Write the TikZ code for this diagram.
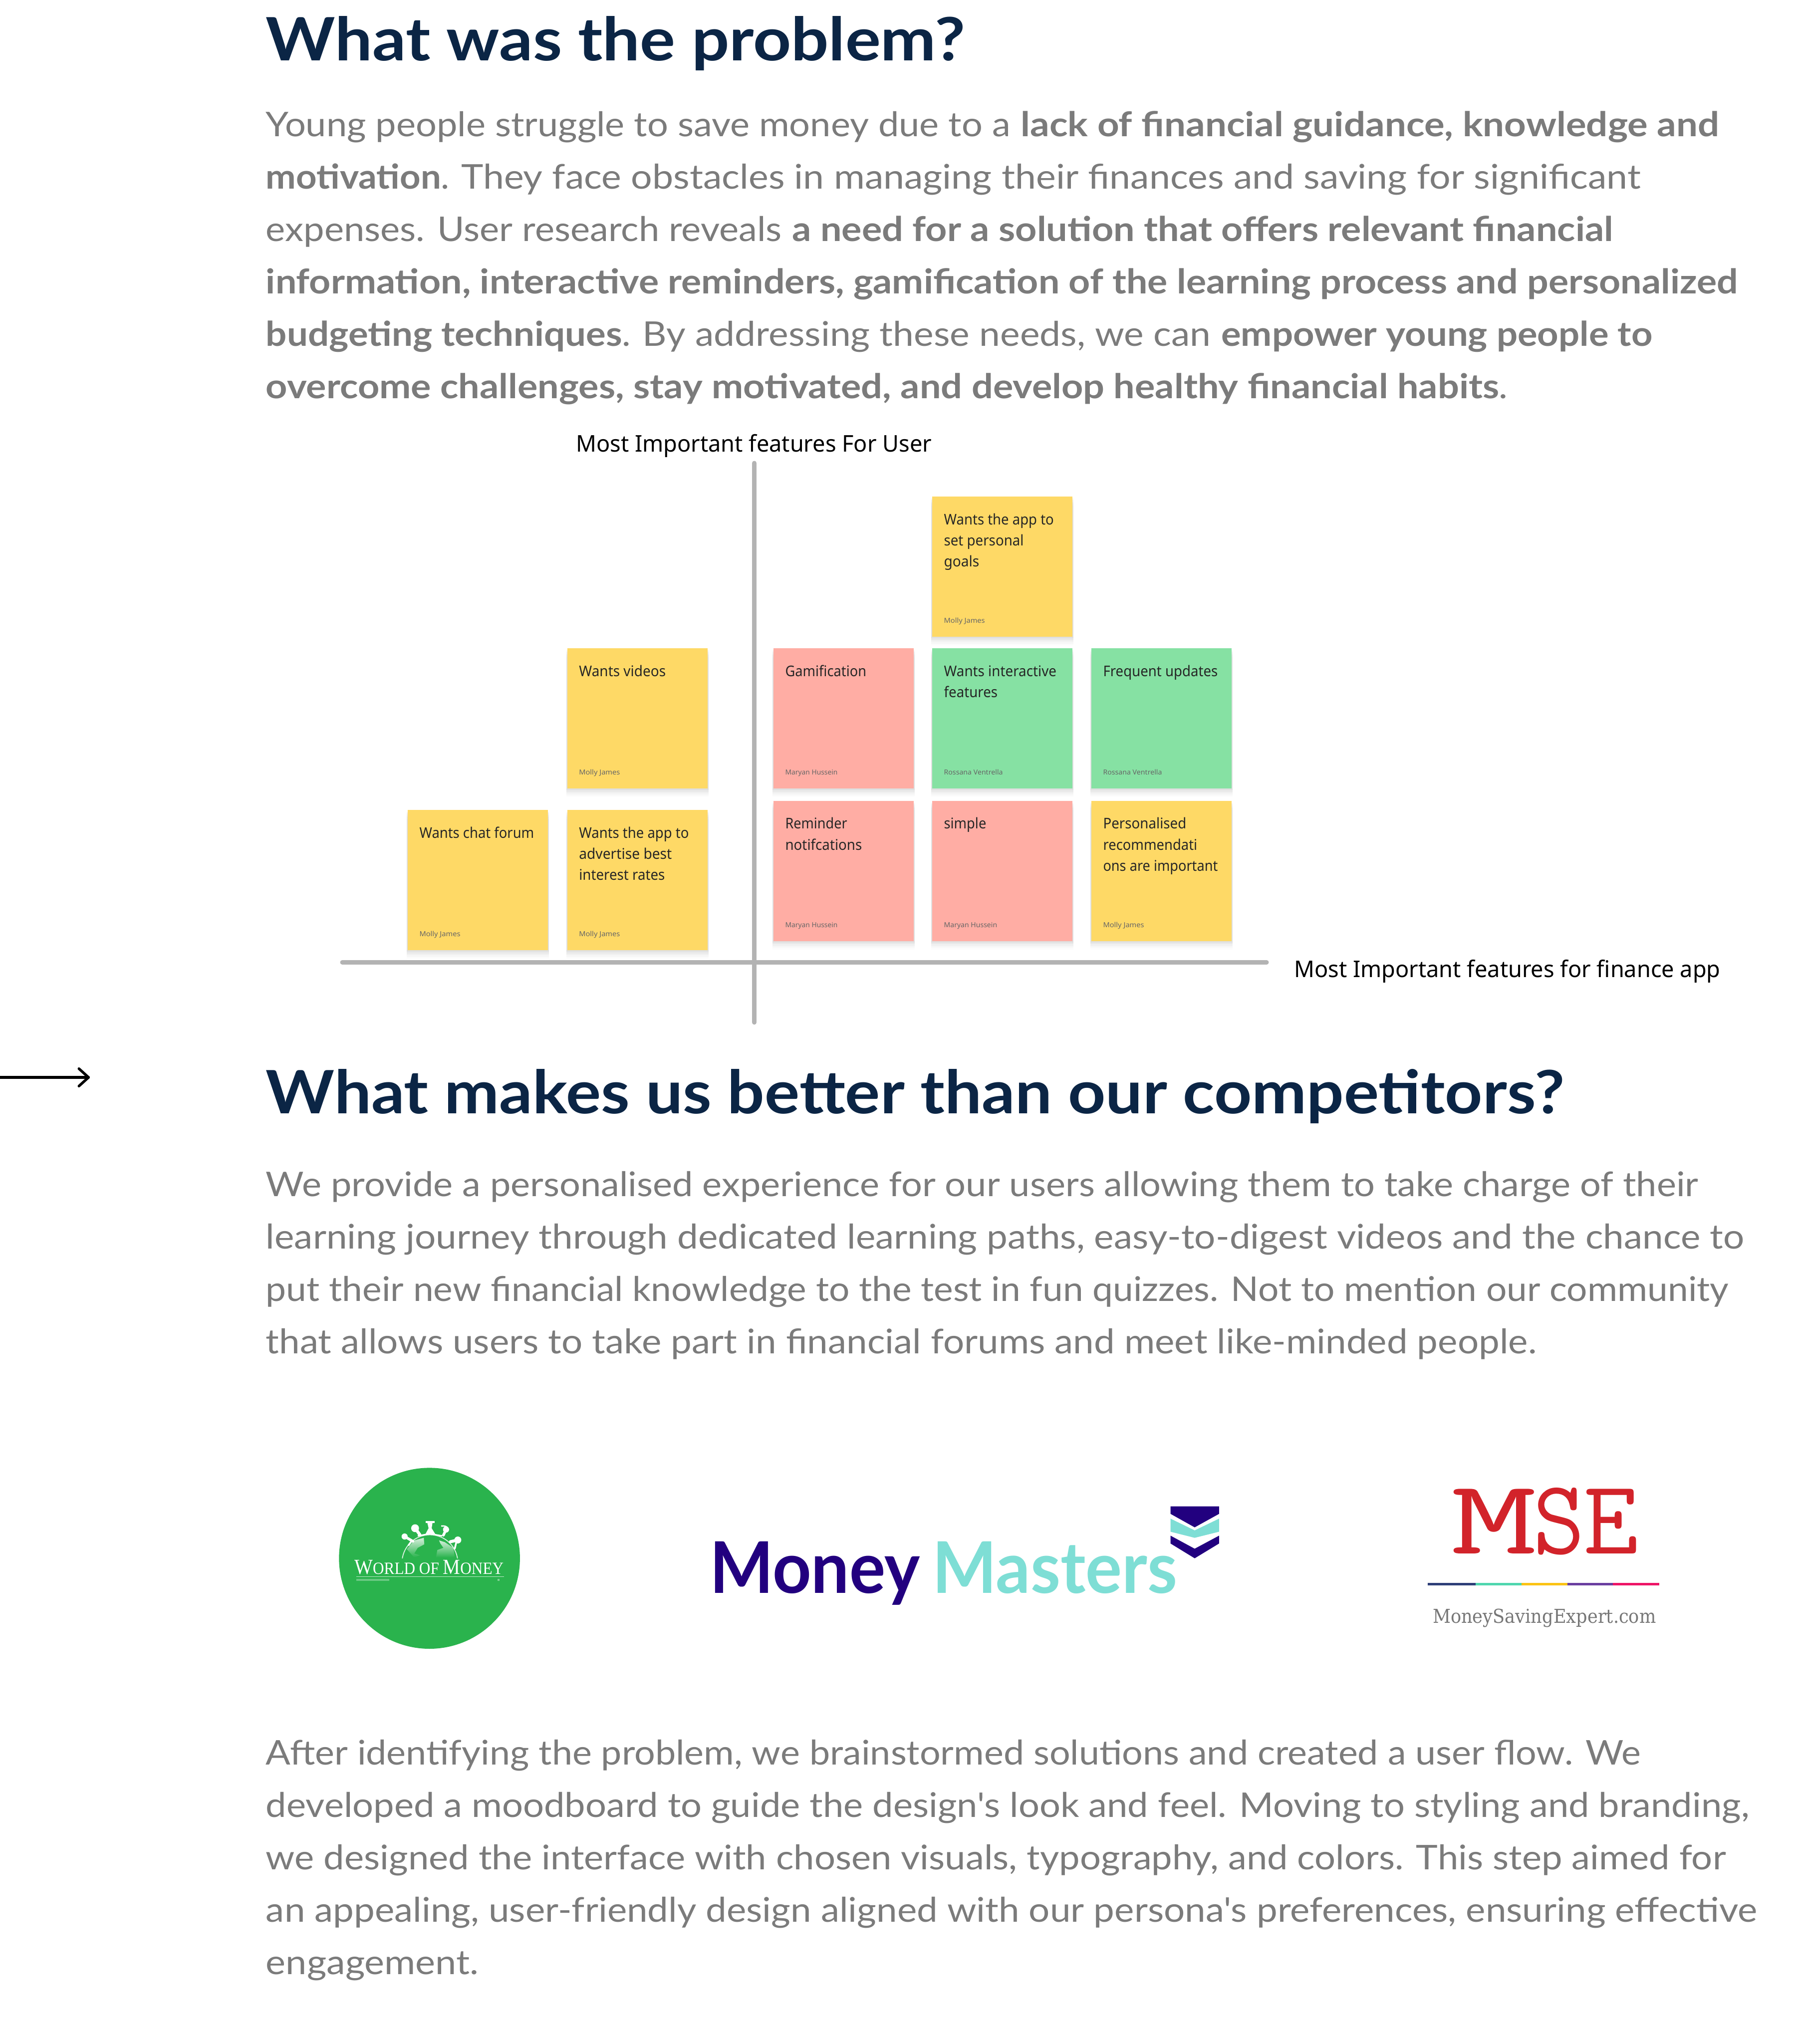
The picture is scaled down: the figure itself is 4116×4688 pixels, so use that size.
\documentclass[tikz,border=0pt]{standalone}
\usepackage{fontspec}
\usepackage{graphicx}
\setmainfont{Lato}[Ligatures=TeXOff]
\newfontfamily\stickyfont{Noto Sans}
\newfontfamily\lserif{Liberation Serif}
\newfontfamily\dserif{DejaVu Serif}
\usetikzlibrary{calc}
\newdimen\pxu \pxu=0.01cm
\newcommand\fit[2]{\resizebox{#1\pxu}{\height}{#2}}
\definecolor{titlec}{HTML}{0B2545}
\definecolor{bodyc}{HTML}{7B7B7B}
\definecolor{styel}{HTML}{FED966}
\definecolor{stpink}{HTML}{FFADA4}
\definecolor{stgreen}{HTML}{86E1A3}
\definecolor{axisc}{HTML}{B3B3B3}
\definecolor{worldg}{HTML}{2AB34D}
\definecolor{landc}{HTML}{D5EFDB}
\definecolor{mmdark}{HTML}{22007F}
\definecolor{mmteal}{HTML}{7EDED5}
\definecolor{msered}{HTML}{D2232A}
\definecolor{msegrey}{HTML}{777777}
\newcommand\titlefont{\fontsize{39}{46}\selectfont\bfseries}
\newcommand\bodyfont{\fontsize{22.2}{30}\selectfont}
\tikzset{
  txt/.style={anchor=base west,inner sep=0pt,outer sep=0pt},
  titleline/.style={txt,text=titlec,font=\titlefont},
  bodyline/.style={txt,text=bodyc,font=\bodyfont},
  stickybox/.style={fill=#1,draw=none,minimum width=322\pxu,minimum height=321\pxu,anchor=north west,inner sep=0pt,outer sep=0pt},
  stickytext/.style={txt,text=black!85,font=\stickyfont\fontsize{9.6}{12}\selectfont},
  stickyauthor/.style={txt,text=black!60,font=\stickyfont\fontsize{4.5}{6}\selectfont},
  axisline/.style={draw=axisc,line width=10\pxu,line cap=round},
  labeltext/.style={txt,text=black,font=\stickyfont\fontsize{15}{18}\selectfont},
  arrowline/.style={draw=black,line width=6\pxu,line cap=round,line join=round},
  msetxt/.style={txt,text=msered,font=\ttfamily\fontsize{69}{72}\selectfont},
}
\newcommand\sticky[6]{%
  \foreach \s/\o in {4/.04,8/.03,12/.025,16/.02,20/.01}{
    \fill[black,opacity=\o] (#2-2,#3+\s) rectangle (#2+324,#3+321+\s);
  }
  \node[stickybox=#4] (#1) at (#2,#3) {};
  \node[stickyauthor] (#1-author) at ($(#1.north west)+(27,290)$) {\fit{#6}{#5}};
}
\newcommand\stxt[4]{%
  \node[stickytext] (#1-#2) at ($(#1.north west)+(27,{64+48.4*(#2-1)})$) {\fit{#3}{#4}};
}
\begin{document}
\begin{tikzpicture}[x=0.01cm,y=-0.01cm]
\useasboundingbox[fill=white] (0,0) rectangle (4116,4688);

% section 1
\node[titleline] (title1) at (610,139) {\fit{1603}{What was the problem?}};
\node[bodyline] (p1a1) at (610,313) {\fit{1707}{Young people struggle to save money due to a}};
\node[bodyline] (p1a2) at (2341,313) {\fit{1602}{\textbf{lack of financial guidance, knowledge and}}};
\node[bodyline] (p1b1) at (610,433.5) {\fit{421}{\textbf{motivation}.}};
\node[bodyline] (p1b2) at (1058,433.5) {\fit{2705}{They face obstacles in managing their finances and saving for significant}};
\node[bodyline] (p1c1) at (610,553.7) {\fit{1183}{expenses. User research reveals}};
\node[bodyline] (p1c2) at (1817,553.7) {\fit{1883}{\textbf{a need for a solution that offers relevant financial}}};
\node[bodyline] (p1d) at (610,673.9) {\fit{3375}{\textbf{information, interactive reminders, gamification of the learning process and personalized}}};
\node[bodyline] (p1e1) at (610,794.1) {\fit{837}{\textbf{budgeting techniques}.}};
\node[bodyline] (p1e2) at (1474,794.1) {\fit{1303}{By addressing these needs, we can}};
\node[bodyline] (p1e3) at (2801,794.1) {\fit{989}{\textbf{empower young people to}}};
\node[bodyline] (p1f) at (610,914.3) {\fit{2848}{\textbf{overcome challenges, stay motivated, and develop healthy financial habits}.}};

% quadrant chart
\node[labeltext] (ylabel) at (1321,1036) {\fit{816}{Most Important features For User}};
\node[labeltext] (xlabel) at (2968,2241) {\fit{978}{Most Important features for finance app}};
\coordinate (vtop) at (1730,1062);
\coordinate (vbot) at (1730,2345);
\coordinate (hleft) at (785,2207);
\coordinate (hright) at (2905,2207);
\draw[axisline] (vtop) -- (vbot);
\draw[axisline] (hleft) -- (hright);

\sticky{s1}{2138}{1139}{styel}{Molly James}{94}
\stxt{s1}{1}{252}{Wants the app to}
\stxt{s1}{2}{183}{set personal}
\stxt{s1}{3}{81}{goals}
\sticky{s2}{1301}{1487}{styel}{Molly James}{94}
\stxt{s2}{1}{199}{Wants videos}
\sticky{s3}{1774}{1487}{stpink}{Maryan Hussein}{120}
\stxt{s3}{1}{186}{Gamification}
\sticky{s4}{2138}{1487}{stgreen}{Rossana Ventrella}{135}
\stxt{s4}{1}{258}{Wants interactive}
\stxt{s4}{2}{123}{features}
\sticky{s5}{2503}{1487}{stgreen}{Rossana Ventrella}{135}
\stxt{s5}{1}{263}{Frequent updates}
\sticky{s6}{935}{1858}{styel}{Molly James}{94}
\stxt{s6}{1}{263}{Wants chat forum}
\sticky{s7}{1301}{1858}{styel}{Molly James}{94}
\stxt{s7}{1}{252}{Wants the app to}
\stxt{s7}{2}{213}{advertise best}
\stxt{s7}{3}{197}{interest rates}
\sticky{s8}{1774}{1837}{stpink}{Maryan Hussein}{120}
\stxt{s8}{1}{142}{Reminder}
\stxt{s8}{2}{176}{notifcations}
\sticky{s9}{2138}{1837}{stpink}{Maryan Hussein}{122}
\stxt{s9}{1}{97}{simple}
\sticky{s10}{2503}{1837}{styel}{Molly James}{94}
\stxt{s10}{1}{191}{Personalised}
\stxt{s10}{2}{216}{recommendati}
\stxt{s10}{3}{263}{ons are important}

% arrow
\coordinate (arrowstart) at (0,2471);
\coordinate (arrowend) at (203,2471);
\coordinate (arrowup) at (181,2451);
\coordinate (arrowdn) at (181,2491);
\draw[arrowline] (arrowstart) -- (arrowend);
\draw[arrowline] (arrowup) -- (arrowend) -- (arrowdn);

% section 2
\node[titleline] (title2) at (610,2554) {\fit{2978}{What makes us better than our competitors?}};
\node[bodyline] (p2a) at (610,2743.7) {\fit{3285}{We provide a personalised experience for our users allowing them to take charge of their}};
\node[bodyline] (p2b) at (610,2864) {\fit{3390}{learning journey through dedicated learning paths, easy-to-digest videos and the chance to}};
\node[bodyline] (p2c) at (610,2984.2) {\fit{3354}{put their new financial knowledge to the test in fun quizzes. Not to mention our community}};
\node[bodyline] (p2d) at (610,3104.4) {\fit{2914}{that allows users to take part in financial forums and meet like-minded people.}};

% world of money logo
\node[circle,fill=worldg,minimum size=415\pxu,inner sep=0pt] (world) at (985,3574) {};
\shade[top color=landc,bottom color=worldg] (933,3553) -- (950,3533) -- (972,3527) -- (973,3542) -- (958,3550) -- (950,3563) -- (963,3567) -- (950,3572) -- cycle;
\shade[top color=landc,bottom color=worldg] (1007,3533) -- (1020,3537) -- (1040,3550) -- (1043,3572) -- (1000,3572) -- (1003,3555) -- (1017,3550) -- (1010,3540) -- cycle;
\begin{scope}
\clip (900,3470) rectangle (1070,3574);
\draw[white,line width=2\pxu,opacity=.85] (986,3584) circle (64);
\end{scope}
\fill[white] (958,3521) -- (986,3516) -- (1014,3521) -- (1014,3524) -- (986,3519.5) -- (958,3524) -- cycle;
% figures on the globe
\fill[white] (928,3524) circle (7) (952,3505) circle (9) (1023,3508) circle (7) (1050,3532) circle (8);
\draw[white,line width=6\pxu,line cap=round] (928,3524) -- (947,3535);
\draw[white,line width=4\pxu,line cap=round] (945,3533) -- (937,3544);
\draw[white,line width=7\pxu,line cap=round] (952,3505) -- (963,3520);
\fill[white] (976,3489) rectangle (997,3492.5);
\fill[white] (980,3492) -- (992,3492) -- (990,3505) -- (998,3518) -- (976,3518) -- (983,3505) -- cycle;
\draw[white,line width=6\pxu,line cap=round] (1023,3508) -- (1017,3521);
\draw[white,line width=3\pxu] (1012,3500) .. controls (1020,3499) and (1026,3501) .. (1027,3506);
\draw[white,line width=7\pxu,line cap=round] (1050,3532) -- (1033,3536);
\draw[white,line width=4\pxu,line cap=round] (1047,3535) -- (1043,3552);
\node[txt,text=white,font=\lserif\fontsize{11.2}{13}\selectfont] (worldname) at (813,3610) {\fit{342}{{\fontsize{14}{14}\selectfont W}ORLD OF {\fontsize{14}{14}\selectfont M}ONEY}};
\coordinate (wr1) at (817,3616);
\coordinate (wr2) at (1156,3616);
\draw[white,line width=1.5\pxu,opacity=.7] (wr1) -- (wr2);
\fill[white,opacity=.3] (817,3621) rectangle (893,3626);
\fill[white,opacity=.4] (1141,3621) rectangle (1146,3626);

% money masters logo
\node[txt,text=mmdark,font=\fontsize{46.5}{50}\selectfont\bfseries] (mm1) at (1628,3654) {\fit{482}{Money}};
\node[txt,text=mmteal,font=\fontsize{46.5}{50}\selectfont\bfseries] (mm2) at (2138,3654) {\fit{562}{Masters}};
\fill[mmdark] (2684.5,3455) -- (2796,3455) -- (2796,3472) -- (2740,3503) -- (2684.5,3472) -- cycle;
\fill[mmteal] (2684.5,3483) -- (2740,3510) -- (2796,3483) -- (2796,3513) -- (2740,3527) -- (2684.5,3513) -- cycle;
\fill[mmdark] (2684.5,3522) -- (2740,3552) -- (2796,3522) -- (2796,3540) -- (2740,3574) -- (2684.5,3540) -- cycle;

% mse logo
\node[msetxt] (mseM) at (3328,3563) {\fit{198}{M}};
\node[msetxt] (mseS) at (3517,3563) {\fit{118}{S}};
\node[msetxt] (mseE) at (3632,3563) {\fit{126}{E}};
\foreach \a/\b/\c in {3275/3384/2E3F78,3384/3490/4FD6AE,3490/3595/FBC314,3595/3699/6A3FA0,3699/3805/EE1566}{
  \definecolor{segc}{HTML}{\c}
  \fill[segc] (\a,3630) rectangle (\b,3636);
}
\node[txt,text=msegrey,font=\dserif\fontsize{12.5}{15}\selectfont] (msesite) at (3286,3722) {\fit{512}{MoneySavingExpert.com}};

% section 3
\node[bodyline] (p3a) at (610,4048) {\fit{3153}{After identifying the problem, we brainstormed solutions and created a user flow. We}};
\node[bodyline] (p3b) at (610,4168) {\fit{3402}{developed a moodboard to guide the design's look and feel. Moving to styling and branding,}};
\node[bodyline] (p3c) at (610,4288) {\fit{3348}{we designed the interface with chosen visuals, typography, and colors. This step aimed for}};
\node[bodyline] (p3d) at (610,4408) {\fit{3420}{an appealing, user-friendly design aligned with our persona's preferences, ensuring effective}};
\node[bodyline] (p3e) at (610,4528) {\fit{488}{engagement.}};
\end{tikzpicture}
\end{document}
